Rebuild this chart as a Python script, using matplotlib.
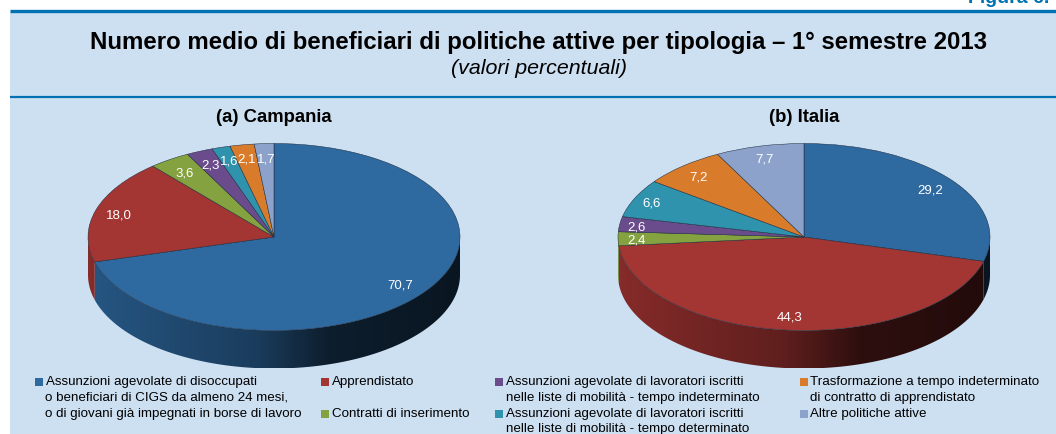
import numpy as np
import matplotlib
matplotlib.use("Agg")
import matplotlib.pyplot as plt
from matplotlib.patches import Polygon

plt.rcParams["font.family"] = ["Liberation Sans", "DejaVu Sans"]

W, H = 1056, 434

campania = [70.7, 18.0, 3.6, 2.3, 1.6, 2.1, 1.7]
italia = [29.2, 44.3, 2.4, 2.6, 6.6, 7.2, 7.7]
colors = ["#2E69A0", "#A33533", "#84A23F", "#6A4C8C", "#3093AE", "#D87C2B", "#8CA2CB"]

# label positions in pixels of the picture
pos_campania = [(400, 286), (119, 215), (185, 173), (210, 165), (229, 162), (247, 159), (266, 159)]
pos_italia = [(930, 191), (790, 318), (637, 240), (637, 227), (652, 204), (698, 177), (765, 160)]

legend_items = [
    (35, 382, "Assunzioni agevolate di disoccupati", colors[0]),
    (45, 398, "o beneficiari di CIGS da almeno 24 mesi,", None),
    (45, 414, "o di giovani già impegnati in borse di lavoro", None),
    (321, 382, "Apprendistato", colors[1]),
    (321, 414, "Contratti di inserimento", colors[2]),
    (495, 382, "Assunzioni agevolate di lavoratori iscritti", colors[3]),
    (505.5, 398, "nelle liste di mobilità - tempo indeterminato", None),
    (495, 414, "Assunzioni agevolate di lavoratori iscritti", colors[4]),
    (505.5, 429, "nelle liste di mobilità - tempo determinato", None),
    (800, 382, "Trasformazione a tempo indeterminato", colors[5]),
    (810.5, 398, "di contratto di apprendistato", None),
    (800, 414, "Altre politiche attive", colors[6]),
]

fig = plt.figure(figsize=(W / 100, H / 100), dpi=100, facecolor="white")

# background in pixel coordinates
bg = fig.add_axes([0, 0, 1, 1], zorder=0)
bg.set_xlim(0, W)
bg.set_ylim(H, 0)
bg.axis("off")
bg.fill_between([9.5, W], 12, H, color="#CDE0F2", lw=0)
bg.plot([9.5, W], [11.3, 11.3], color="#0071B3", lw=2.4, solid_capstyle="butt")
bg.plot([9.5, W], [97, 97], color="#0071B3", lw=1.6, solid_capstyle="butt")

# cut by the top edge in the reference too
bg.text(968, 3, "Figura 6.", color="#0071B3", fontsize=14, fontweight="bold", va="baseline")
bg.text(539, 42, "Numero medio di beneficiari di politiche attive per tipologia – 1° semestre 2013",
        fontsize=17.3, fontweight="bold", ha="center", va="center")
bg.text(539, 68, "(valori percentuali)", fontsize=15.4, style="italic", ha="center", va="center")
bg.text(274, 117, "(a) Campania", fontsize=13.3, fontweight="bold", ha="center", va="center")
bg.text(804, 117, "(b) Italia", fontsize=13.3, fontweight="bold", ha="center", va="center")

for x, y, txt, col in legend_items:
    if col is None:
        bg.text(x, y, txt, fontsize=9.6, va="center")
    else:
        bg.scatter([x + 4], [y], marker="s", s=30, color=col, lw=0)
        bg.text(x + 10.5, y, txt, fontsize=9.6, va="center")

# multipliers of the side wall, dark to the right as in the original
grad_x = [-1.0, -0.1, 0.3, 1.0]
grad_k = [0.82, 0.58, 0.28, 0.21]


def draw_pie(values, cx, labels):
    rx, ry, depth = 186, 93.5, 38
    ax = fig.add_axes([(cx - rx) / W, 1 - (237 + ry + depth) / H, 2 * rx / W, (2 * ry + depth) / H], zorder=1)
    ax.pie(values, colors=colors, startangle=90, counterclock=False, radius=1,
           wedgeprops=dict(edgecolor="#1c2a3a", linewidth=0.35, clip_on=False))
    d = depth / ry

    # side wall: a horizontal gradient clipped to the front part of each slice
    edges = np.cumsum([0] + list(values)) / sum(values) * 360
    gx = np.linspace(-1, 1, 400)
    k = np.interp(gx, grad_x, grad_k)
    for i, col in enumerate(colors):
        a = max(edges[i], 90)
        b = min(edges[i + 1], 270)
        if b <= a:
            continue
        rgb = np.array(matplotlib.colors.to_rgb(col))
        th = np.radians(np.linspace(a, b, 200))
        xs = np.sin(th)
        ys = np.cos(th)
        verts = np.column_stack([np.r_[xs, xs[::-1]], np.r_[ys, ys[::-1] - d]])
        im = ax.imshow(k[None, :, None] * rgb[None, None, :], extent=(-1, 1, -1 - d, 0.2),
                       aspect="auto", zorder=0, interpolation="bilinear")
        im.set_clip_path(Polygon(verts, transform=ax.transData))

    ax.set_aspect("auto")
    ax.set_xlim(-1, 1)
    ax.set_ylim(-1 - d, 1)
    ax.axis("off")

    for (x, y), v in zip(labels, values):
        txt = f"{v:.1f}".replace(".", ",")
        fig.text(x / W, 1 - y / H, txt, color="white", fontsize=9.5, ha="center", va="center", zorder=5)


draw_pie(campania, 274, pos_campania)
draw_pie(italia, 804, pos_italia)

fig.savefig("out.png", dpi=100, facecolor="white")
